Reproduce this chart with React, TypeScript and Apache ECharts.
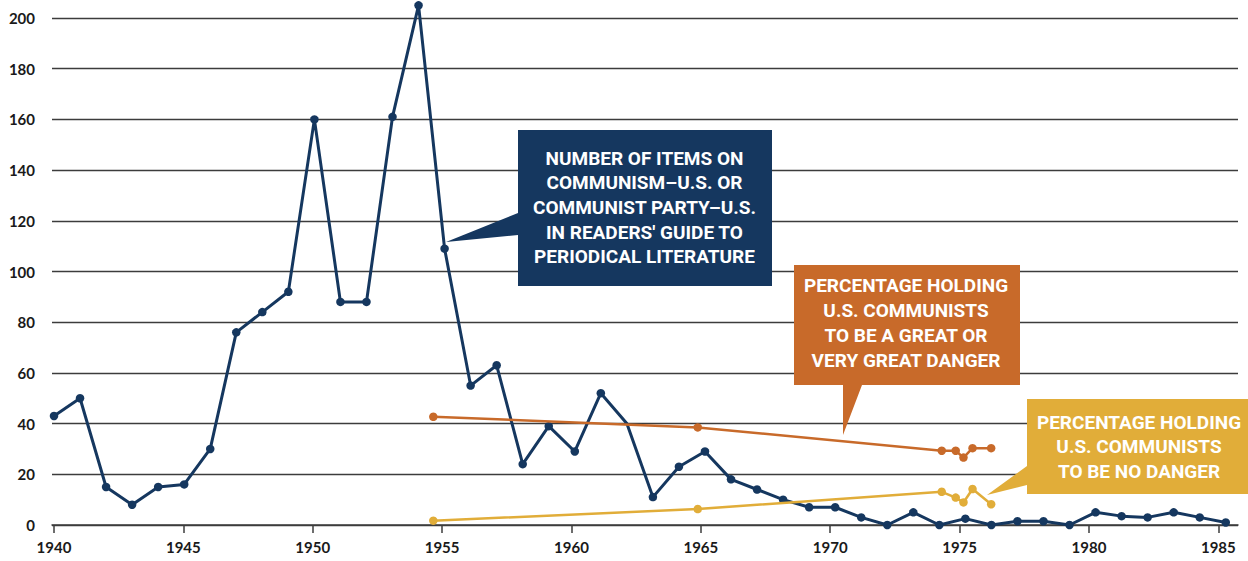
import React, { useEffect, useRef } from "react";
import * as echarts from "echarts";

// ---- data ----
const itemYears = [
  1940, 1941, 1942, 1943, 1944, 1945, 1946, 1947, 1948, 1949,
  1950, 1951, 1952, 1953, 1954, 1955, 1956, 1957, 1958, 1959,
  1960, 1961, 1962, 1963, 1964, 1965, 1966, 1967, 1968, 1969,
  1970, 1971, 1972, 1973, 1974, 1975, 1976, 1977, 1978, 1979,
  1980, 1981, 1982, 1983, 1984, 1985,
];
const itemCounts = [
  43, 50, 15, 8, 15, 16, 30, 76, 84, 92,
  160, 88, 88, 161, 205, 109, 55, 63, 24, 39,
  29, 52, 40, 11, 23, 29, 18, 14, 10, 7,
  7, 3, 0, 5, 0, 2.5, 0, 1.5, 1.5, 0,
  5, 3.5, 3, 5, 3, 1,
];
const surveyDates = [1954.66, 1964.88, 1974.31, 1974.85, 1975.15, 1975.5, 1976.22];
const greatDanger = [42.7, 38.5, 29.3, 29.3, 26.6, 30.3, 30.3];
const noDanger = [1.7, 6.3, 13.1, 10.8, 8.9, 14.2, 8.2];
const xTicks = [1940, 1945, 1950, 1955, 1960, 1965, 1970, 1975, 1980, 1985];

const NAVY = "#15375f";
const ORANGE = "#c86a2a";
const YELLOW = "#e1ad39";
const GRID = "#3c3c3c";

export default function App() {
  const ref = useRef<HTMLDivElement>(null);
  useEffect(() => {
    if (!ref.current) return;
    const chart = echarts.init(ref.current, null, { renderer: "svg" });
    const calloutFont = {
      fontFamily: "Roboto",
      fontWeight: "bold" as const,
      fontSize: 19,
      fill: "#ffffff",
      align: "center" as const,
      verticalAlign: "middle" as const,
    };
    chart.setOption({
      animation: false,
      grid: { left: 52, right: 10, top: 18, bottom: 36 },
      xAxis: [
        {
          type: "value",
          min: 1939.923,
          max: 1985.76,
          axisLine: { show: true, lineStyle: { color: GRID, width: 1.5 } },
          axisTick: {
            show: true,
            length: 8,
            customValues: xTicks,
            lineStyle: { color: GRID, width: 1.5 },
          },
          axisLabel: {
            customValues: xTicks,
            formatter: (v: number) => String(Math.round(v)),
            fontFamily: "Lato",
            fontWeight: "bold",
            fontSize: 15,
            color: "#1a1a1a",
            margin: 14,
          },
          splitLine: { show: false },
        },
        {
          type: "value",
          min: 1939.923,
          max: 1985.47,
          show: false,
          splitLine: { show: false },
        },
      ],
      yAxis: {
        type: "value",
        min: 0,
        max: 200,
        interval: 20,
        axisLine: { show: false },
        axisTick: { show: false },
        axisLabel: {
          fontFamily: "Lato",
          fontWeight: "bold",
          fontSize: 15,
          color: "#1a1a1a",
          margin: 17,
        },
        splitLine: { lineStyle: { color: GRID, width: 1.3 } },
      },
      series: [
        {
          type: "line",
          xAxisIndex: 1,
          clip: false,
          symbol: "circle",
          symbolSize: 8.5,
          lineStyle: { color: NAVY, width: 3 },
          itemStyle: { color: NAVY },
          data: itemYears.map((y, i) =>
            y === 1962
              ? { value: [y, itemCounts[i]], symbol: "none" }
              : [y, itemCounts[i]]
          ),
          z: 2,
        },
        {
          type: "line",
          xAxisIndex: 0,
          clip: false,
          symbol: "circle",
          symbolSize: 8.5,
          lineStyle: { color: ORANGE, width: 2.5 },
          itemStyle: { color: ORANGE },
          data: surveyDates.map((d, i) => [d, greatDanger[i]]),
          z: 3,
        },
        {
          type: "line",
          xAxisIndex: 0,
          clip: false,
          symbol: "circle",
          symbolSize: 8.5,
          lineStyle: { color: YELLOW, width: 2.5 },
          itemStyle: { color: YELLOW },
          data: surveyDates.map((d, i) => [d, noDanger[i]]),
          z: 3,
        },
      ],
      graphic: [
        {
          type: "polygon",
          z: 100,
          shape: {
            points: [
              [518, 130], [772, 130], [772, 286], [518, 286],
              [518, 235], [446, 242], [518, 213],
            ],
          },
          style: { fill: NAVY },
        },
        {
          type: "text",
          z: 101,
          x: 644.5,
          y: 207.5,
          style: {
            ...calloutFont,
            lineHeight: 24.6,
            text:
              "NUMBER OF ITEMS ON\nCOMMUNISM–U.S. OR\nCOMMUNIST PARTY–U.S.\nIN READERS' GUIDE TO\nPERIODICAL LITERATURE",
          },
        },
        {
          type: "polygon",
          z: 100,
          shape: {
            points: [
              [794, 265], [1020, 265], [1020, 385], [862, 385],
              [843, 435], [843, 385], [794, 385],
            ],
          },
          style: { fill: ORANGE },
        },
        {
          type: "text",
          z: 101,
          x: 906,
          y: 323,
          style: {
            ...calloutFont,
            lineHeight: 24.8,
            text:
              "PERCENTAGE HOLDING\nU.S. COMMUNISTS\nTO BE A GREAT OR\nVERY GREAT DANGER",
          },
        },
        {
          type: "polygon",
          z: 100,
          shape: {
            points: [
              [1027, 399], [1248, 399], [1248, 494], [1027, 494],
              [1027, 485], [987, 495], [1027, 466],
            ],
          },
          style: { fill: YELLOW },
        },
        {
          type: "text",
          z: 101,
          x: 1139,
          y: 446.7,
          style: {
            ...calloutFont,
            lineHeight: 24.4,
            text: "PERCENTAGE HOLDING\nU.S. COMMUNISTS\nTO BE NO DANGER",
          },
        },
      ],
    });
    return () => chart.dispose();
  }, []);
  return (
    <div
      ref={ref}
      style={{ position: "absolute", left: 0, top: 0, width: 1248, height: 561, background: "#fff" }}
    />
  );
}
